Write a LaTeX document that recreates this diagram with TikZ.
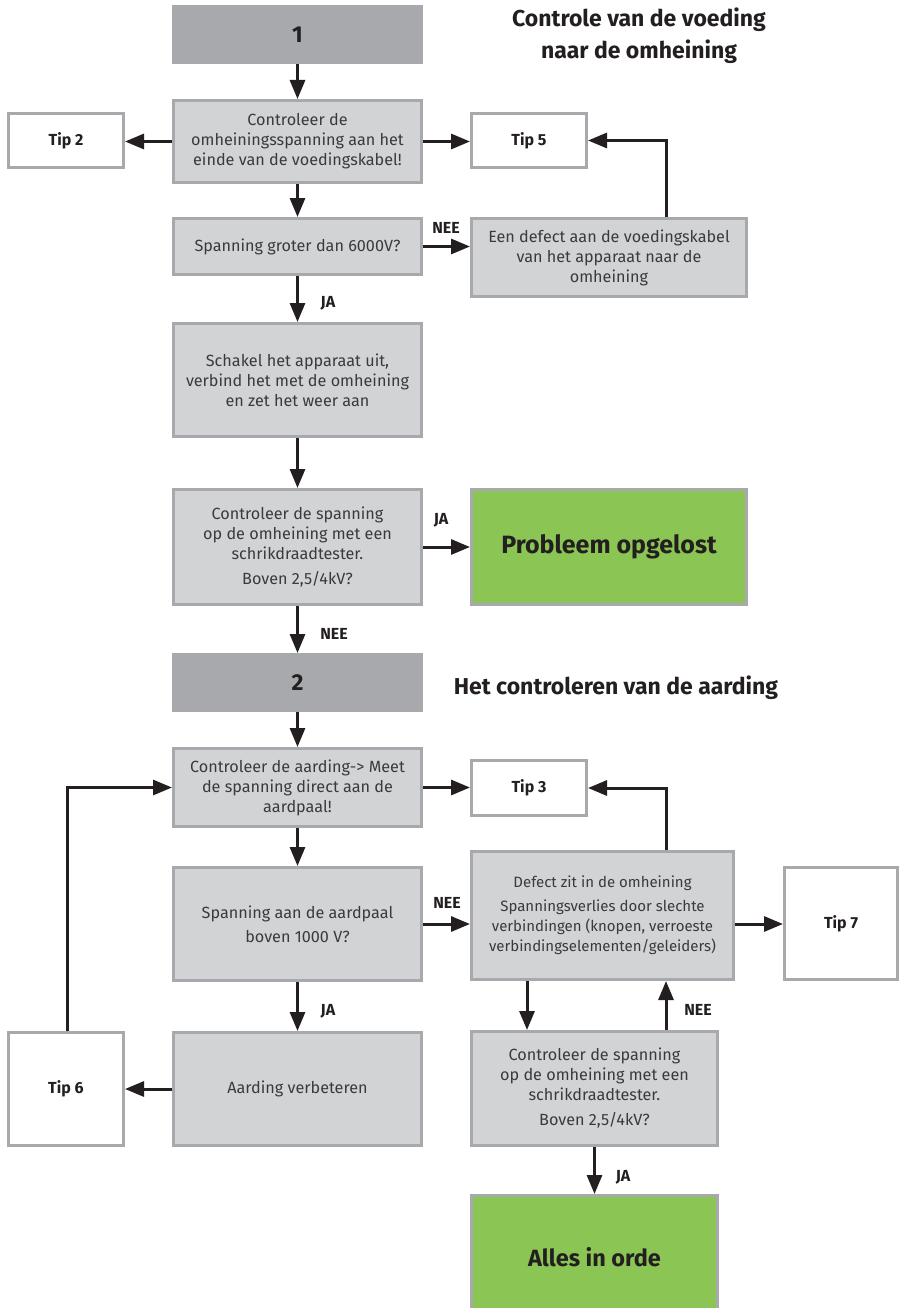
\documentclass[tikz,border=0pt]{standalone}
\usepackage{fontspec}
\setmainfont{Fira Sans}
\usetikzlibrary{arrows.meta,calc}
\definecolor{dk}{HTML}{A7A9AC}
\definecolor{lt}{HTML}{D1D3D4}
\definecolor{bd}{HTML}{A7A9AC}
\definecolor{gr}{HTML}{8BC553}
\definecolor{ink}{HTML}{231F20}
\definecolor{txt}{HTML}{3A3A3C}
\begin{document}
\begin{tikzpicture}[x=1pt,y=-1pt,
 sz/.style 2 args={minimum width=#1pt,minimum height=#2pt},
 box/.style={draw=bd,line width=3pt,fill=lt,inner sep=0pt,align=center,text=txt,font=\fontsize{16.2}{20}\selectfont},
 tipbox/.style={draw=bd,line width=3pt,fill=white,inner sep=0pt,font=\bfseries\fontsize{16}{18}\selectfont,text=ink},
 secbox/.style={draw=dk,line width=3pt,fill=dk,inner sep=0pt,font=\bfseries\fontsize{23}{26}\selectfont,text=ink},
 okbox/.style={draw=bd,line width=3pt,fill=gr,inner sep=0pt,font=\bfseries\fontsize{25}{28}\selectfont,text=ink},
 arr/.style={draw=ink,line width=3pt,-{Triangle[length=19pt,width=15pt]}},
 lab/.style={font=\bfseries\fontsize{16}{18}\selectfont,text=ink,inner sep=0pt},
 ttl/.style={font=\bfseries\fontsize{23}{32}\selectfont,text=ink,align=center,inner sep=0pt}]
\clip (0,0) rectangle (901,1308);
\fill[white] (0,0) rectangle (901,1308);

% section 1
\node[secbox,sz={248}{56}] (N1) at (297.5,34.5) {1};
\node[ttl] (T1) at (639,36) {Controle van de voeding\\naar de omheining};
\node[box,sz={248}{82}] (A) at (297.5,141.5) {Controleer de\\omheiningsspanning aan het\\einde van de voedingskabel!};
\node[tipbox,sz={115}{54}] (Tip2) at (66,140.5) {Tip 2};
\node[tipbox,sz={115}{54}] (Tip5) at (529,140.5) {Tip 5};
\node[box,sz={248}{56}] (B) at (297.5,246.5) {Spanning groter dan 6000V?};
\node[box,sz={275}{78}] (C) at (609,257.5) {Een defect aan de voedingskabel\\van het apparaat naar de\\omheining};
\node[box,sz={248}{113}] (D) at (297.5,380) {Schakel het apparaat uit,\\verbind het met de omheining\\en zet het weer aan};
\node[box,sz={248}{115}] (E) at (297.5,547) {Controleer de spanning\\op de omheining met een\\schrikdraadtester.\\[5pt]Boven 2,5/4kV?};
\node[okbox,sz={275}{115}] (P) at (609,547) {Probleem opgelost};

% section 2
\node[secbox,sz={248}{56}] (N2) at (297.5,682.5) {2};
\node[ttl] (T2) at (616,688) {Het controleren van de aarding};
\node[box,sz={248}{78}] (F) at (297.5,787.5) {Controleer de aarding-> Meet\\de spanning direct aan de\\aardpaal!};
\node[tipbox,sz={115}{55}] (Tip3) at (529,788) {Tip 3};
\node[box,sz={248}{113}] (G) at (297.5,924) {Spanning aan de aardpaal\\[4pt]boven 1000 V?};
\node[box,sz={262}{128},font=\fontsize{15}{20}\selectfont] (I) at (602.5,915.5) {Defect zit in de omheining\\[4pt]Spanningsverlies door slechte\\verbindingen (knopen, verroeste\\verbindingselementen/geleiders)};
\node[tipbox,sz={113}{112}] (Tip7) at (841,923.5) {Tip 7};
\node[box,sz={248}{113}] (H) at (297.5,1089) {Aarding verbeteren};
\node[tipbox,sz={115}{113}] (Tip6) at (66,1089) {Tip 6};
\node[box,sz={246}{114}] (J) at (594.5,1088.5) {Controleer de spanning\\op de omheining met een\\schrikdraadtester.\\[5pt]Boven 2,5/4kV?};
\node[okbox,sz={246}{123},font=\bfseries\fontsize{23.5}{28}\selectfont] (K) at (594.5,1257) {Alles in orde};

% connectors section 1
\draw[arr] (N1.south) -- (A.north);
\draw[arr] (A.west) -- (A.west -| Tip2.east);
\draw[arr] (A.east) -- (A.east -| Tip5.west);
\draw[arr] (A.south) -- (B.north);
\draw[arr] (B.east) -- (B.east -| C.west);
\draw[arr] ([xshift=57pt]C.north) |- (Tip5.east);
\draw[arr] (B.south) -- (D.north);
\draw[arr] (D.south) -- (E.north);
\draw[arr] (E.east) -- (P.west);
\draw[arr] (E.south) -- (N2.north);

% connectors section 2
\draw[arr] (N2.south) -- (F.north);
\draw[arr] (F.south) -- (G.north);
\draw[arr] (F.east) -- (F.east -| Tip3.west);
\draw[arr] ([xshift=63.5pt]I.north) |- (Tip3.east);
\draw[arr] (G.east) -- (G.east -| I.west);
\draw[arr] (G.east -| I.east) -- (G.east -| Tip7.west);
\draw[arr] (G.south) -- (H.north);
\draw[arr] (H.west) -- (H.west -| Tip6.east);
\draw[arr] ([xshift=1pt]Tip6.north) |- (F.west);
\draw[arr] ([xshift=-75.5pt]I.south) -- ([xshift=-75.5pt]I.south |- J.north);
\draw[arr] ([xshift=71.5pt]J.north) -- ([xshift=71.5pt]J.north |- I.south);
\draw[arr] (J.south) -- (K.north);

% labels
\node[lab] (l1) at (446,228) {NEE};
\node[lab] (l2) at (328,303) {JA};
\node[lab] (l3) at (441,520) {JA};
\node[lab] (l4) at (334,634) {NEE};
\node[lab] (l5) at (447,903) {NEE};
\node[lab] (l6) at (328,1011) {JA};
\node[lab] (l7) at (698,1010) {NEE};
\node[lab] (l8) at (623,1177) {JA};
\end{tikzpicture}
\end{document}
